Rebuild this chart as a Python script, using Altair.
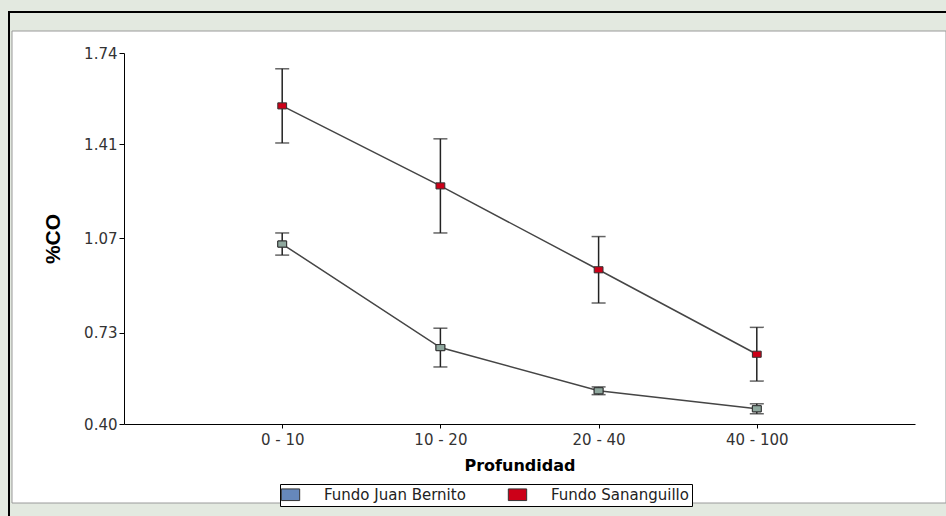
import altair as alt
import pandas as pd

depths = ["0 - 10", "10 - 20", "20 - 40", "40 - 100"]
series = ["Fundo Juan Bernito", "Fundo Sananguillo"]
juan_mean = [1.05, 0.676, 0.52, 0.455]
juan_err = [0.04, 0.07, 0.014, 0.018]
san_mean = [1.549, 1.26, 0.957, 0.652]
san_err = [0.134, 0.17, 0.12, 0.097]
y_ticks = [0.40, 0.73, 1.07, 1.41, 1.74]
legend_colors = ["#6688bb", "#cc0018"]

rows = []
for d, m, e in zip(depths, juan_mean, juan_err):
    rows.append({"depth": d, "fundo": series[0], "mean": m, "lo": m - e, "hi": m + e})
for d, m, e in zip(depths, san_mean, san_err):
    rows.append({"depth": d, "fundo": series[1], "mean": m, "lo": m - e, "hi": m + e})
df = pd.DataFrame(rows)

FONT = "DejaVu Sans"

x_enc = alt.X(
    "depth:N",
    sort=depths,
    scale=alt.Scale(type="point", padding=1),
    axis=alt.Axis(
        title="Profundidad",
        labelAngle=0,
        tickSize=4,
        labelPadding=4,
        domainColor="black",
        tickColor="black",
        labelFont=FONT,
        labelFontSize=15,
        labelColor="#333333",
        titleFont=FONT,
        titleFontSize=16,
        titleFontWeight="bold",
        titleColor="black",
        titlePadding=10,
        zindex=1,
    ),
)
y_scale = alt.Scale(domain=[0.40, 1.74], nice=False, zero=False)
y_enc = alt.Y(
    "mean:Q",
    scale=y_scale,
    axis=alt.Axis(
        title="%CO",
        values=y_ticks,
        format=".2f",
        grid=False,
        tickSize=5,
        labelPadding=2,
        domainColor="black",
        tickColor="black",
        labelFont=FONT,
        labelFontSize=15,
        labelColor="#333333",
        titleFont="Liberation Sans",
        titleFontSize=21,
        titleFontWeight="bold",
        titleColor="black",
        titlePadding=20,
        zindex=1,
    ),
)

base = alt.Chart(df)

# decorative frame
frame_data = alt.Data(values=[{"k": 1}])
panel = alt.Chart(frame_data).mark_rect(fill="white", stroke="#9a9a9a", strokeWidth=1).encode(
    x=alt.value(-112), x2=alt.value(822), y=alt.value(-22), y2=alt.value(450)
)
top_line = alt.Chart(frame_data).mark_rule(color="black", strokeWidth=2).encode(
    x=alt.value(-116), x2=alt.value(822), y=alt.value(-41)
)
left_line = alt.Chart(frame_data).mark_rule(color="black", strokeWidth=2).encode(
    x=alt.value(-115), y=alt.value(-41), y2=alt.value(463)
)

lines = base.mark_line(color="#454545", strokeWidth=1.5).encode(
    x=x_enc, y=y_enc, detail="fundo:N"
)
err = base.mark_rule(color="#222222", strokeWidth=1.5).encode(
    x=alt.X("depth:N", sort=depths), y=alt.Y("lo:Q", scale=y_scale), y2="hi:Q"
)
cap_lo = base.mark_tick(color="#222222", size=14, thickness=1.5).encode(
    x=alt.X("depth:N", sort=depths), y=alt.Y("lo:Q", scale=y_scale)
)
cap_hi = base.mark_tick(color="#222222", size=14, thickness=1.5).encode(
    x=alt.X("depth:N", sort=depths), y=alt.Y("hi:Q", scale=y_scale)
)
pts_legend = base.mark_point(
    shape="M-1.3,-0.9H1.3V0.9H-1.3Z", filled=True, size=46, stroke="#333333", strokeWidth=1, opacity=1
).encode(
    x=alt.X("depth:N", sort=depths),
    y=alt.Y("mean:Q", scale=y_scale),
    color=alt.Color(
        "fundo:N",
        scale=alt.Scale(domain=series, range=legend_colors),
        legend=alt.Legend(
            title=None,
            orient="none",
            legendX=156,
            legendY=431,
            direction="horizontal",
            symbolType="M-1.5,-0.95H1.5V0.95H-1.5Z",
            symbolSize=150,
            symbolStrokeColor="#333333",
            symbolStrokeWidth=1,
            symbolOpacity=1,
            labelFont=FONT,
            labelFontSize=15,
            labelColor="#222222",
            labelOffset=26,
            labelLimit=300,
            columnPadding=40,
            strokeColor="black",
            fillColor="white",
            padding=3,
        ),
    ),
)
pts_juan = alt.Chart(df[df["fundo"] == series[0]]).mark_point(
    shape="M-1.3,-0.9H1.3V0.9H-1.3Z", filled=True, size=46, fill="#8fa89e", stroke="#333333", strokeWidth=1, opacity=1
).encode(
    x=alt.X("depth:N", sort=depths),
    y=alt.Y("mean:Q", scale=y_scale),
)

chart = alt.layer(
    panel, top_line, left_line, lines, err, cap_lo, cap_hi, pts_legend, pts_juan
).properties(
    width=791,
    height=371,
    autosize=alt.AutoSizeParams(type="none"),
    padding={"left": 124, "top": 53, "right": 31, "bottom": 92},
).configure(background="#e3e9e0").configure_view(strokeWidth=0)

chart.save("out.html", embed_options={"renderer": "svg", "actions": False})
